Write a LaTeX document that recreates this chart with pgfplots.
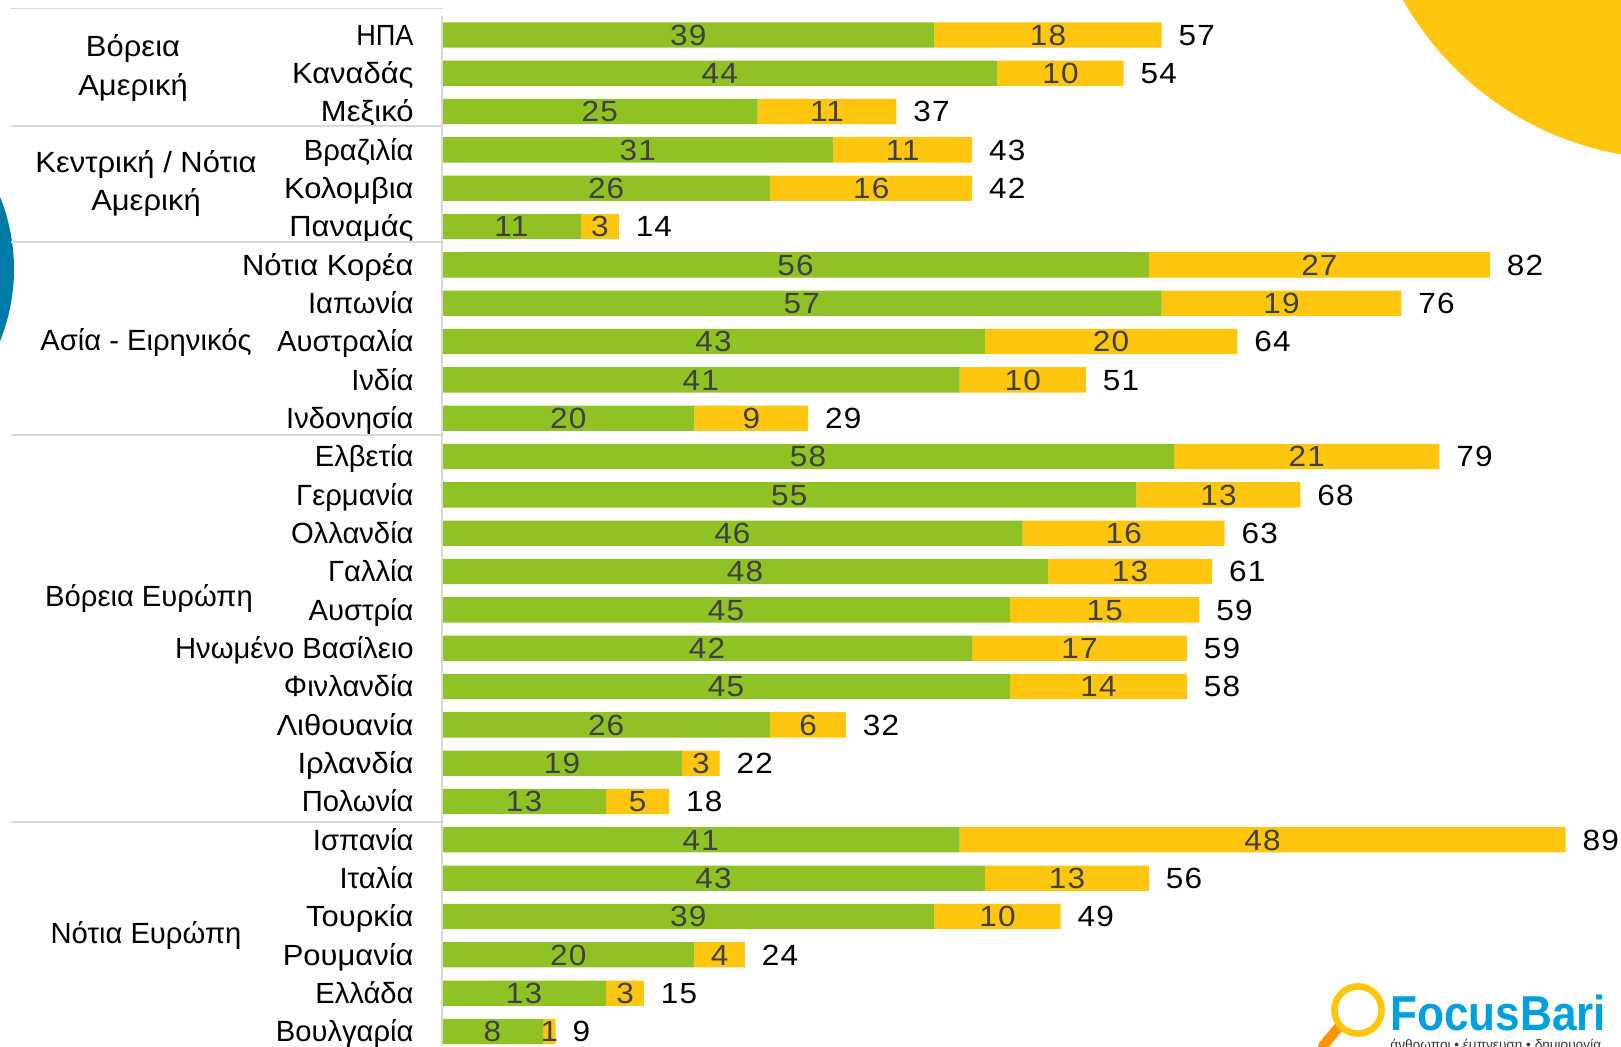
\documentclass[border=0pt]{standalone}
\usepackage{pgfplots}
\usepackage{pgfplotstable}
\usepackage{fontspec}
\pgfplotsset{compat=1.18}
\setmainfont{Liberation Sans}
\newfontfamily\cat[FakeStretch=1.0]{Liberation Sans}
\newfontfamily\catw[FakeStretch=1.06]{Liberation Sans}
\newfontfamily\catn[FakeStretch=0.93]{Liberation Sans}
\newfontfamily\num[FakeStretch=1.08,LetterSpace=4]{Liberation Sans}
\newfontfamily\logo[FakeStretch=0.9]{Liberation Sans}
\definecolor{grn}{HTML}{90C226}
\definecolor{ylw}{HTML}{FFC60F}
\definecolor{blu}{HTML}{007BA7}
\definecolor{lbl}{HTML}{404040}
\definecolor{sep}{HTML}{D9D9D9}
\definecolor{lgo}{HTML}{009FDF}
\pgfplotstableread{
i a b t
0 39 18 57
1 44 10 54
2 25 11 37
3 31 11 43
4 26 16 42
5 11 3 14
6 56 27 82
7 57 19 76
8 43 20 64
9 41 10 51
10 20 9 29
11 58 21 79
12 55 13 68
13 46 16 63
14 48 13 61
15 45 15 59
16 42 17 59
17 45 14 58
18 26 6 32
19 19 3 22
20 13 5 18
21 41 48 89
22 43 13 56
23 39 10 49
24 20 4 24
25 13 3 15
26 8 1 9
}\datatable
% pixel coordinates of the reference, origin top left
\def\P(#1,#2){({#1*0.5pt},{(1046-#2)*0.5pt})}
\begin{document}
\begin{tikzpicture}
\useasboundingbox (0,0) rectangle (810.5pt,523pt);
\begin{scope}
\clip (0,0) rectangle (810.5pt,523pt);
\fill[ylw] \P(1675,-153) circle (156pt);
\fill[blu] \P(-178,269) circle (96pt);
\end{scope}
\begin{axis}[
  at={(221pt,0pt)}, anchor=south west,
  scale only axis, width=589.5pt, height=523pt,
  xmin=0, xmax=93.39, ymin=-0.9105, ymax=26.379,
  y dir=reverse,
  xbar stacked, bar width=12.65pt,
  stacked ignores zero=false,
  axis line style={draw=none},
  major tick length=0pt,
  xtick=\empty,
  ytick={0,...,26},
  yticklabels={{\catn ΗΠΑ},{\catw Καναδάς},{\catw Μεξικό},Βραζιλία,{\catw Κολομβια},{\catw Παναμάς},{\catw Νότια Κορέα},Ιαπωνία,Αυστραλία,Ινδία,Ινδονησία,Ελβετία,Γερμανία,Ολλανδία,Γαλλία,Αυστρία,Ηνωμένο Βασίλειο,Φινλανδία,{\catw Λιθουανία},{\catw Ιρλανδία},Πολωνία,Ισπανία,Ιταλία,{\catw Τουρκία},{\catw Ρουμανία},Ελλάδα,Βουλγαρία},
  yticklabel style={font=\cat\fontsize{14.6}{15}\selectfont, inner sep=0pt, anchor=east, text height=10.4pt, text depth=0pt, xshift=-14pt},
  clip=false,
  point meta=explicit symbolic,
  nodes near coords={\pgfplotspointmeta},
  every node near coord/.append style={font=\num\fontsize{14.6}{15}\selectfont, inner sep=0pt, text height=10.4pt, text depth=0pt},
]
\addplot[fill=grn, draw=none, every node near coord/.append style={text=lbl}] table[x=a,y=i,meta=a] {\datatable};
\addplot[fill=ylw, draw=none, every node near coord/.append style={text=lbl}] table[x=b,y=i,meta=b] {\datatable};
\addplot[fill=none, draw=none, every node near coord/.append style={text=black, anchor=west, xshift=8.3pt}] table[x expr=0,y=i,meta=t] {\datatable};
\end{axis}
\foreach \y in {8.3,126,242,435,822} \draw[sep, line width=0.7pt] \P(11,\y) -- \P(443,\y);
\draw[sep, line width=0.7pt] \P(442,16) -- \P(442,1046);
\begin{scope}[every node/.style={font=\cat\fontsize{14.6}{15}\selectfont, inner sep=0pt, text height=10.4pt, text depth=0pt, anchor=center, text=black}]
\node[font=\catw\fontsize{14.6}{15}\selectfont] at \P(133,46.5) {Βόρεια};
\node[font=\catw\fontsize{14.6}{15}\selectfont] at \P(133,85) {Αμερική};
\node[font=\catw\fontsize{14.6}{15}\selectfont] at \P(146,162) {Κεντρική / Νότια};
\node[font=\catw\fontsize{14.6}{15}\selectfont] at \P(146,200) {Αμερική};
\node at \P(146,340) {Ασία - Ειρηνικός};
\node at \P(149,596) {Βόρεια Ευρώπη};
\node at \P(146,933) {Νότια Ευρώπη};
\end{scope}
% logo
\draw[orange!85!yellow, line width=5pt, line cap=round] \P(1338,1028) -- \P(1323,1046);
\draw[ylw, line width=3.3pt] \P(1358,1010) circle (11.8pt);
\node[anchor=base west, inner sep=0pt, text=lgo, font=\logo\bfseries\fontsize{24.5}{25}\selectfont] at \P(1390,1030) {FocusBari};
\node[anchor=base west, inner sep=0pt, text=black!80, font=\fontsize{6.8}{7}\selectfont] at \P(1390,1049) {άνθρωποι • έμπνευση • δημιουργία};
\end{tikzpicture}
\end{document}
